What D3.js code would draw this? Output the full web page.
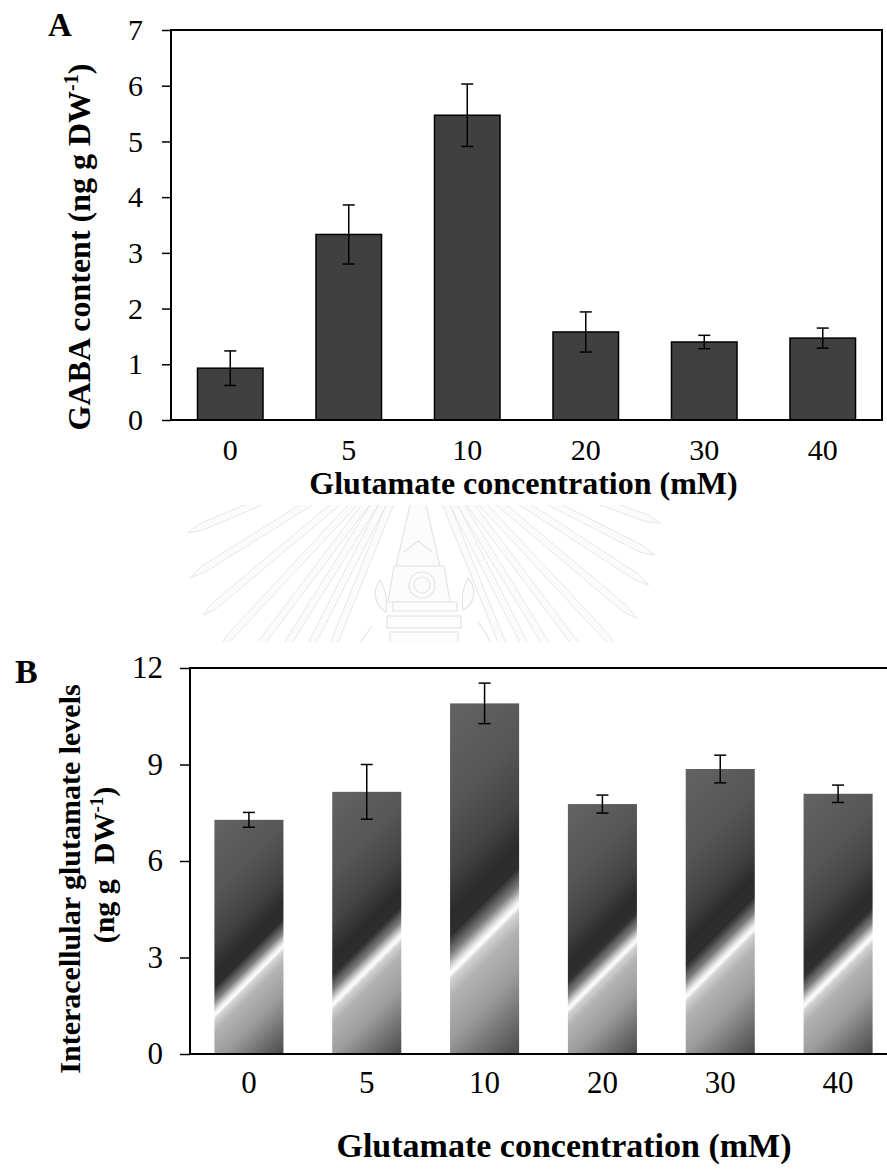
<!DOCTYPE html>
<html>
<head>
<meta charset="utf-8">
<script src="https://cdn.jsdelivr.net/npm/d3@7"></script>
<style>
  html, body { margin: 0; padding: 0; background: #ffffff; }
  svg { display: block; }
  text { font-family: "Liberation Serif", "Times New Roman", "DejaVu Serif", serif; fill: #000; }
</style>
</head>
<body>
<script>
// Glutamate treatment levels (mM)
const concentrations = ["0", "5", "10", "20", "30", "40"];

// A: GABA content (ng g DW-1), mean and error
const gabaMean = [0.93, 3.33, 5.47, 1.58, 1.40, 1.47];
const gabaErr  = [0.31, 0.53, 0.56, 0.36, 0.12, 0.18];
const gabaTicks = [0, 1, 2, 3, 4, 5, 6, 7];

// B: interacellular glutamate levels (ng g DW-1), mean and error
const glutMean = [7.28, 8.15, 10.90, 7.77, 8.86, 8.09];
const glutErr  = [0.23, 0.85, 0.63, 0.28, 0.43, 0.27];
const glutTicks = [0, 3, 6, 9, 12];

const W = 887, H = 1170;
const svg = d3.select("body").append("svg")
  .attr("width", W).attr("height", H)
  .attr("viewBox", `0 0 ${W} ${H}`);
const defs = svg.append("defs");

/* ---------- faint university seal watermark between the panels ---------- */
(function drawSeal() {
  defs.append("clipPath").attr("id", "sealClip")
    .append("rect").attr("x", 185).attr("y", 505).attr("width", 485).attr("height", 137);
  const g = svg.append("g").attr("clip-path", "url(#sealClip)")
    .attr("fill", "#fbfbfb").attr("stroke", "#e7e7e7").attr("stroke-width", 1);
  const cx = 418, cy = 435;
  const rays = [
    { side: -1, a: 14, r1: 235 }, { side: -1, a: 23, r1: 250 }, { side: -1, a: 32, r1: 268 },
    { side: -1, a: 40, r1: 280 }, { side: -1, a: 47, r1: 290 }, { side: -1, a: 53, r1: 290 },
    { side: -1, a: 58, r1: 290 }, { side: -1, a: 63, r1: 290 }, { side: -1, a: 68, r1: 290 },
    { side: 1, a: 20, r1: 258 }, { side: 1, a: 27, r1: 265 }, { side: 1, a: 33, r1: 275 },
    { side: 1, a: 40, r1: 285 }, { side: 1, a: 47, r1: 290 }, { side: 1, a: 53, r1: 290 },
    { side: 1, a: 58.5, r1: 290 }, { side: 1, a: 63, r1: 290 }, { side: 1, a: 68, r1: 290 }
  ];
  rays.forEach(d => {
    const th = d.a * Math.PI / 180;
    const ux = d.side * Math.cos(th), uy = Math.sin(th);
    const px = -uy, py = ux;              // perpendicular
    const r0 = 70, r1 = d.r1, hw = 3.5;
    const pts = [
      [cx + ux * r0 + px * hw, cy + uy * r0 + py * hw],
      [cx + ux * (r1 - 14) + px * hw, cy + uy * (r1 - 14) + py * hw],
      [cx + ux * r1, cy + uy * r1],
      [cx + ux * (r1 - 14) - px * hw, cy + uy * (r1 - 14) - py * hw],
      [cx + ux * r0 - px * hw, cy + uy * r0 - py * hw]
    ];
    g.append("path").attr("d", d3.line()(pts) + "Z");
  });
  // spire
  const sg = svg.append("g").attr("clip-path", "url(#sealClip)")
    .attr("fill", "#fcfcfc").attr("stroke", "#e4e4e4").attr("stroke-width", 1.2);
  sg.append("path").attr("d", d3.line()([[418, 470], [440, 566], [396, 566]]) + "Z");
  sg.append("path").attr("fill", "none")
    .attr("d", d3.line()([[404, 552], [418, 541], [432, 552]]));
  // body with medallion
  sg.append("path").attr("d", d3.line()([[394, 566], [444, 566], [450, 602], [388, 602]]) + "Z");
  sg.append("circle").attr("cx", 422).attr("cy", 585).attr("r", 13);
  sg.append("circle").attr("cx", 422).attr("cy", 585).attr("r", 8);
  // side ornaments
  sg.append("path").attr("d", "M380,580 C372,590 374,605 386,612 C388,600 386,590 380,580 Z");
  sg.append("path").attr("d", "M468,578 C477,588 476,603 463,610 C461,598 462,588 468,578 Z");
  // tiered base
  sg.append("rect").attr("x", 393).attr("y", 602).attr("width", 64).attr("height", 9);
  sg.append("rect").attr("x", 387).attr("y", 616).attr("width", 74).attr("height", 12);
  sg.append("rect").attr("x", 390).attr("y", 632).attr("width", 68).attr("height", 14);
  sg.append("path").attr("fill", "none").attr("d", "M372,626 C366,634 362,640 358,646");
  sg.append("path").attr("fill", "none").attr("d", "M478,622 C484,630 488,636 492,646");
})();

/* ---------------------------- Panel A ---------------------------- */
(function panelA() {
  const L = 171, R = 882, T = 30, B = 420;
  const x = d3.scaleBand().domain(concentrations).range([L, R])
    .paddingInner(0.447).paddingOuter(0.2235);
  const y = d3.scaleLinear().domain([0, 7]).range([B, T]);
  const data = concentrations.map((c, i) => ({ c, v: gabaMean[i], e: gabaErr[i] }));

  // bars
  svg.append("g").selectAll("rect").data(data).join("rect")
    .attr("x", d => x(d.c)).attr("width", x.bandwidth())
    .attr("y", d => y(d.v)).attr("height", d => y(0) - y(d.v))
    .attr("fill", "#404040").attr("stroke", "#000").attr("stroke-width", 1.5);

  // error bars
  const eb = svg.append("g").attr("stroke", "#000").attr("stroke-width", 1.5);
  data.forEach(d => {
    const cxm = x(d.c) + x.bandwidth() / 2;
    eb.append("line").attr("x1", cxm).attr("x2", cxm).attr("y1", y(d.v + d.e)).attr("y2", y(d.v - d.e));
    [d.v + d.e, d.v - d.e].forEach(v => eb.append("line")
      .attr("x1", cxm - 6).attr("x2", cxm + 6).attr("y1", y(v)).attr("y2", y(v)));
  });

  // frame
  svg.append("rect").attr("x", L).attr("y", T).attr("width", R - L).attr("height", B - T)
    .attr("fill", "none").attr("stroke", "#000").attr("stroke-width", 2);

  // y axis
  const ya = svg.append("g").attr("transform", `translate(${L},0)`)
    .call(d3.axisLeft(y).tickValues(gabaTicks).tickSize(9).tickPadding(19).tickFormat(d3.format("d")));
  ya.select(".domain").remove();
  ya.selectAll("line").attr("stroke-width", 1.5);
  ya.selectAll("text").attr("font-size", 30);

  // x axis labels
  const xa = svg.append("g").attr("transform", `translate(0,${B})`)
    .call(d3.axisBottom(x).tickSize(0).tickPadding(19));
  xa.select(".domain").remove();
  xa.selectAll("text").attr("font-size", 30);

  // titles
  svg.append("text").attr("x", (L + R) / 2 - 3).attr("y", 494).attr("text-anchor", "middle")
    .attr("font-weight", "bold").attr("font-size", 32).text("Glutamate concentration (mM)");

  const yt = svg.append("text").attr("transform", `translate(90,${247}) rotate(-90)`)
    .attr("text-anchor", "middle").attr("font-weight", "bold").attr("font-size", 32);
  yt.append("tspan").text("GABA content (ng g DW");
  yt.append("tspan").attr("font-size", 20).attr("dy", -12).text("-1");
  yt.append("tspan").attr("dy", 12).text(")");

  svg.append("text").attr("x", 48).attr("y", 36).attr("font-weight", "bold")
    .attr("font-size", 33).text("A");
})();

/* ---------------------------- Panel B ---------------------------- */
(function panelB() {
  const L = 190, R = 897, T = 668, B = 1054;
  const x = d3.scaleBand().domain(concentrations).range([L, R])
    .paddingInner(0.414).paddingOuter(0.207);
  const y = d3.scaleLinear().domain([0, 12]).range([B, T]);
  const data = concentrations.map((c, i) => ({ c, v: glutMean[i], e: glutErr[i], i }));

  // diagonal shaded fill, one gradient per bar laid out along its own box
  const stops = [
    [0.00, "#636363"], [0.25, "#565656"], [0.40, "#444444"], [0.50, "#2b2b2b"],
    [0.555, "#2e2e2e"], [0.60, "#808080"], [0.632, "#e6e6e6"], [0.645, "#ffffff"],
    [0.66, "#d2d2d2"], [0.70, "#b2b2b2"], [0.80, "#9c9c9c"], [0.90, "#727272"], [1.00, "#4a4a4a"]
  ];
  data.forEach(d => {
    const bx = x(d.c), by = y(d.v), w = x.bandwidth(), h = y(0) - y(d.v);
    const s = (w + h) / 2;
    const gr = defs.append("linearGradient").attr("id", "glutGrad" + d.i)
      .attr("gradientUnits", "userSpaceOnUse")
      .attr("x1", bx).attr("y1", by).attr("x2", bx + s).attr("y2", by + s);
    stops.forEach(st => gr.append("stop").attr("offset", st[0]).attr("stop-color", st[1]));
  });

  svg.append("g").selectAll("rect").data(data).join("rect")
    .attr("x", d => x(d.c)).attr("width", x.bandwidth())
    .attr("y", d => y(d.v)).attr("height", d => y(0) - y(d.v))
    .attr("fill", d => `url(#glutGrad${d.i})`);

  // error bars
  const eb = svg.append("g").attr("stroke", "#000").attr("stroke-width", 1.5);
  data.forEach(d => {
    const cxm = x(d.c) + x.bandwidth() / 2;
    eb.append("line").attr("x1", cxm).attr("x2", cxm).attr("y1", y(d.v + d.e)).attr("y2", y(d.v - d.e));
    [d.v + d.e, d.v - d.e].forEach(v => eb.append("line")
      .attr("x1", cxm - 6).attr("x2", cxm + 6).attr("y1", y(v)).attr("y2", y(v)));
  });

  // frame (right edge runs off the page)
  svg.append("rect").attr("x", L).attr("y", T).attr("width", 700).attr("height", B - T)
    .attr("fill", "none").attr("stroke", "#000").attr("stroke-width", 2);

  // y axis
  const ya = svg.append("g").attr("transform", `translate(${L},0)`)
    .call(d3.axisLeft(y).tickValues(glutTicks).tickSize(10).tickPadding(17).tickFormat(d3.format("d")));
  ya.select(".domain").remove();
  ya.selectAll("line").attr("stroke-width", 1.5);
  ya.selectAll("text").attr("font-size", 31);

  // x axis labels
  const xa = svg.append("g").attr("transform", `translate(0,${B})`)
    .call(d3.axisBottom(x).tickSize(0).tickPadding(17));
  xa.select(".domain").remove();
  xa.selectAll("text").attr("font-size", 31);

  // titles
  svg.append("text").attr("x", 564).attr("y", 1157).attr("text-anchor", "middle")
    .attr("font-weight", "bold").attr("font-size", 34).text("Glutamate concentration (mM)");

  svg.append("text").attr("transform", `translate(80,879) rotate(-90)`)
    .attr("text-anchor", "middle").attr("font-weight", "bold").attr("font-size", 30)
    .text("Interacellular glutamate levels");
  const yt2 = svg.append("text").attr("transform", `translate(114,865) rotate(-90)`)
    .attr("text-anchor", "middle").attr("font-weight", "bold").attr("font-size", 30)
    .style("white-space", "pre");
  yt2.append("tspan").text("(ng g  DW");
  yt2.append("tspan").attr("font-size", 19).attr("dy", -11).text("-1");
  yt2.append("tspan").attr("dy", 11).text(")");

  svg.append("text").attr("x", 15).attr("y", 683).attr("font-weight", "bold")
    .attr("font-size", 34).text("B");
})();
</script>
</body>
</html>
